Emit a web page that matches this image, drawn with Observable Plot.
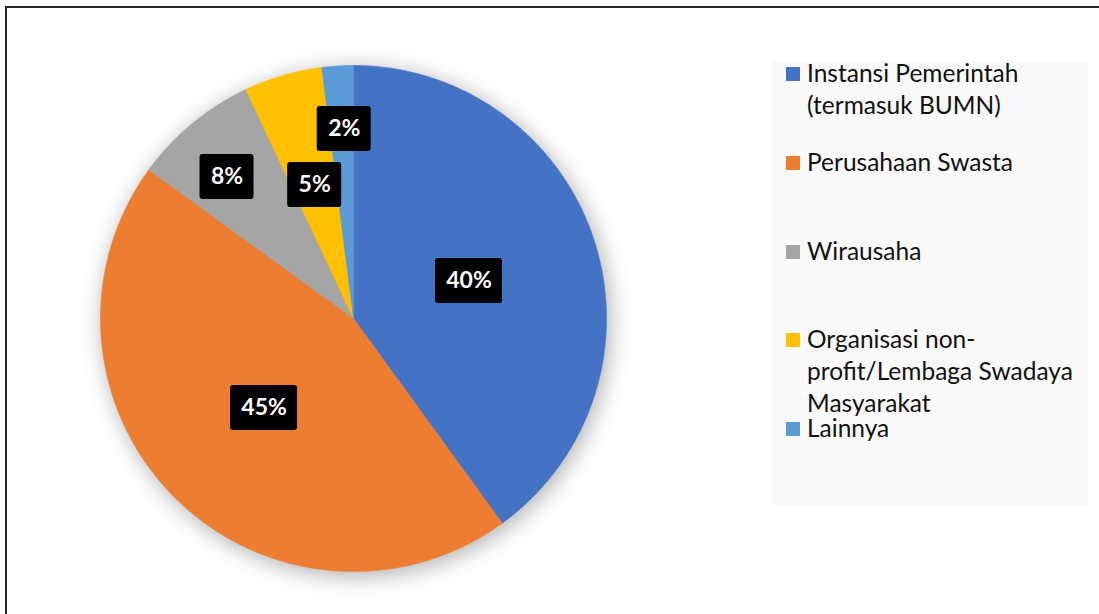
<!DOCTYPE html>
<html>
<head>
<meta charset="utf-8">
<script src="https://cdn.jsdelivr.net/npm/d3@7"></script>
<script src="https://cdn.jsdelivr.net/npm/@observablehq/plot@0.6"></script>
<style>
  html, body { margin: 0; padding: 0; background: #fff; }
  #wrap { position: relative; width: 1099px; height: 614px; overflow: hidden; font-family: Lato, "Open Sans", sans-serif; }
  #chart { position: absolute; left: 0; top: 0; }
  #frame { position: absolute; left: 5px; top: 6px; width: 1200px; height: 700px; border-left: 2px solid #262626; border-top: 2px solid #262626; pointer-events: none; }
  #legend { position: absolute; left: 772px; top: 62px; width: 316px; height: 443px; background: #f9f9f9; }
  .item { position: absolute; left: 0; width: 316px; }
  .sw { position: absolute; left: 14px; top: 10px; width: 14px; height: 14px; }
  .lab { position: absolute; left: 35px; top: 0; width: 281px; font-size: 24.5px; line-height: 32px; color: #111; }
</style>
</head>
<body>
<div id="wrap">
  <div id="chart"></div>
  <div id="legend"></div>
  <div id="frame"></div>
</div>
<script>
// ---- data ----
const categories = [
  "Instansi Pemerintah (termasuk BUMN)",
  "Perusahaan Swasta",
  "Wirausaha",
  "Organisasi non-profit/Lembaga Swadaya Masyarakat",
  "Lainnya"
];
const values = [40, 45, 8, 5, 2];
const labels = ["40%", "45%", "8%", "5%", "2%"];
const colors = ["#4472C4", "#ED7D31", "#A5A5A5", "#FFC000", "#5B9BD5"];

// ---- layout (not data) ----
const W = 1099, H = 614;
const cx = 353, cy = 318, R = 253;
const labelRadius = [0.48, 0.5, 0.75, 0.55, 0.75];
const labelAngleShift = [0, 0, -2.2, 0, 0.8]; // degrees, best-fit nudges

const total = d3.sum(values);
let acc = 0;
const wedgePts = [];
const labelRows = [];
values.forEach((v, i) => {
  const a0 = acc / total * 2 * Math.PI;
  acc += v;
  const a1 = acc / total * 2 * Math.PI;
  wedgePts.push({cat: categories[i], x: 0, y: 0});
  const n = Math.max(2, Math.ceil((a1 - a0) / (Math.PI / 360)));
  for (let k = 0; k <= n; k++) {
    const a = a0 + (a1 - a0) * k / n;
    wedgePts.push({cat: categories[i], x: Math.sin(a), y: Math.cos(a)});
  }
  wedgePts.push({cat: categories[i], x: 0, y: 0});
  const am = (a0 + a1) / 2 + labelAngleShift[i] * Math.PI / 180;
  const r = labelRadius[i];
  const txt = labels[i];
  const bw = (13 * txt.length + 28) / 2 / R;
  const bh = 45 / 2 / R;
  const lx = r * Math.sin(am), ly = r * Math.cos(am);
  labelRows.push({text: txt, x: lx, y: ly, x1: lx - bw, x2: lx + bw, y1: ly - bh, y2: ly + bh});
});

const plot = Plot.plot({
  width: W,
  height: H,
  margin: 0,
  x: {domain: [-1, 1], range: [cx - R, cx + R], axis: null},
  y: {domain: [-1, 1], range: [cy + R, cy - R], axis: null},
  color: {domain: categories, range: colors},
  style: {background: "transparent", overflow: "visible"},
  marks: [
    Plot.line(wedgePts, {x: "x", y: "y", z: "cat", fill: "cat", stroke: "cat", strokeWidth: 0.6, curve: "linear"}),
    Plot.rect(labelRows, {x1: "x1", x2: "x2", y1: "y1", y2: "y2", fill: "#000", rx: 3}),
    Plot.text(labelRows, {x: "x", y: "y", text: "text", fill: "#fff", fontSize: 23, fontWeight: "bold", fontFamily: "Lato, 'Open Sans', sans-serif"})
  ]
});
d3.select(plot).selectAll("g[aria-label='line']").style("filter", "drop-shadow(3px 4px 11px rgba(0,0,0,0.32))");
document.getElementById("chart").appendChild(plot);

const legend = d3.select("#legend");
categories.forEach((c, i) => {
  const it = legend.append("div").attr("class", "item").style("top", (-5 + i * 88.75) + "px");
  it.append("div").attr("class", "sw").style("background", colors[i]);
  it.append("div").attr("class", "lab").text(c);
});
</script>
</body>
</html>
